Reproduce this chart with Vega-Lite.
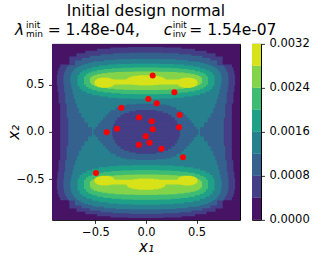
{
  "$schema": "https://vega.github.io/schema/vega-lite/v6.json",
  "autosize": {"type": "pad"},
  "padding": {"left": 5, "top": 2.88, "right": 5, "bottom": 1},
  "bounds": "flush",
  "spacing": 12,
  "config": {
    "font": "DejaVu Sans",
    "view": {"stroke": "#000000", "strokeWidth": 1},
    "axis": {
      "labelFont": "DejaVu Sans", "labelFontSize": 11.5, "labelColor": "#000000",
      "tickColor": "#000000", "tickSize": 3.5, "tickWidth": 0.8,
      "titleFont": "DejaVu Sans", "titleFontSize": 15, "titleFontWeight": "normal", "titleColor": "#000000",
      "domain": false, "grid": false
    },
    "text": {"font": "DejaVu Sans", "color": "#000000"}
  },
  "datasets": {
    "contours": [
      {"x":-0.93,"x2":0.93,"y":-0.93,"y2":0.93,"z":0.0002},
      {"x":-0.176,"x2":0.176,"y":-0.911,"y2":0.897,"z":0.0006},
      {"x":-0.353,"x2":0.353,"y":-0.904,"y2":0.891,"z":0.0006},
      {"x":-0.485,"x2":0.485,"y":-0.891,"y2":0.878,"z":0.0006},
      {"x":-0.6,"x2":0.6,"y":-0.87,"y2":0.857,"z":0.0006},
      {"x":-0.688,"x2":0.688,"y":-0.843,"y2":0.83,"z":0.0006},
      {"x":-0.759,"x2":0.759,"y":-0.809,"y2":0.797,"z":0.0006},
      {"x":-0.85,"x2":0.85,"y":-0.722,"y2":0.712,"z":0.0006},
      {"x":-0.865,"x2":0.865,"y":0.3,"y2":0.68,"z":0.0006},
      {"x":-0.865,"x2":0.865,"y":-0.69,"y2":-0.3,"z":0.0006},
      {"x":-0.875,"x2":0.875,"y":0.42,"y2":0.647,"z":0.0006},
      {"x":-0.875,"x2":0.875,"y":-0.656,"y2":-0.42,"z":0.0006},
      {"x":-0.882,"x2":0.882,"y":0.49,"y2":0.6,"z":0.0006},
      {"x":-0.882,"x2":0.882,"y":-0.61,"y2":-0.49,"z":0.0006},
      {"x":-0.163,"x2":0.163,"y":-0.867,"y2":0.837,"z":0.001},
      {"x":-0.327,"x2":0.327,"y":-0.861,"y2":0.832,"z":0.001},
      {"x":-0.449,"x2":0.449,"y":-0.85,"y2":0.821,"z":0.001},
      {"x":-0.556,"x2":0.556,"y":-0.831,"y2":0.804,"z":0.001},
      {"x":-0.637,"x2":0.637,"y":-0.807,"y2":0.781,"z":0.001},
      {"x":-0.703,"x2":0.703,"y":-0.778,"y2":0.754,"z":0.001},
      {"x":-0.77,"x2":0.77,"y":-0.725,"y2":0.705,"z":0.001},
      {"x":-0.785,"x2":0.785,"y":0.15,"y2":0.687,"z":0.001},
      {"x":-0.785,"x2":0.785,"y":-0.705,"y2":-0.15,"z":0.001},
      {"x":-0.8,"x2":0.8,"y":0.3,"y2":0.661,"z":0.001},
      {"x":-0.8,"x2":0.8,"y":-0.678,"y2":-0.3,"z":0.001},
      {"x":-0.81,"x2":0.81,"y":0.42,"y2":0.632,"z":0.001},
      {"x":-0.81,"x2":0.81,"y":-0.647,"y2":-0.42,"z":0.001},
      {"x":-0.817,"x2":0.817,"y":0.49,"y2":0.6,"z":0.001},
      {"x":-0.817,"x2":0.817,"y":-0.61,"y2":-0.49,"z":0.001},
      {"x":-0.15,"x2":0.15,"y":-0.821,"y2":0.771,"z":0.0014},
      {"x":-0.3,"x2":0.3,"y":-0.816,"y2":0.767,"z":0.0014},
      {"x":-0.413,"x2":0.413,"y":-0.806,"y2":0.759,"z":0.0014},
      {"x":-0.51,"x2":0.51,"y":-0.791,"y2":0.745,"z":0.0014},
      {"x":-0.535,"x2":0.535,"y":-0.784,"y2":0.74,"z":0.0014},
      {"x":-0.575,"x2":0.575,"y":0.05,"y2":0.731,"z":0.0014},
      {"x":-0.61,"x2":0.61,"y":0.1,"y2":0.72,"z":0.0014},
      {"x":-0.64,"x2":0.64,"y":0.15,"y2":0.709,"z":0.0014},
      {"x":-0.665,"x2":0.665,"y":0.2,"y2":0.697,"z":0.0014},
      {"x":-0.685,"x2":0.685,"y":0.25,"y2":0.686,"z":0.0014},
      {"x":-0.7,"x2":0.7,"y":0.3,"y2":0.675,"z":0.0014},
      {"x":-0.715,"x2":0.715,"y":0.35,"y2":0.661,"z":0.0014},
      {"x":-0.727,"x2":0.727,"y":0.4,"y2":0.646,"z":0.0014},
      {"x":-0.738,"x2":0.738,"y":0.45,"y2":0.627,"z":0.0014},
      {"x":-0.745,"x2":0.745,"y":0.5,"y2":0.606,"z":0.0014},
      {"x":-0.75,"x2":0.75,"y":0.52,"y2":0.575,"z":0.0014},
      {"x":-0.575,"x2":0.575,"y":-0.773,"y2":-0.05,"z":0.0014},
      {"x":-0.61,"x2":0.61,"y":-0.761,"y2":-0.1,"z":0.0014},
      {"x":-0.64,"x2":0.64,"y":-0.748,"y2":-0.15,"z":0.0014},
      {"x":-0.665,"x2":0.665,"y":-0.733,"y2":-0.2,"z":0.0014},
      {"x":-0.685,"x2":0.685,"y":-0.72,"y2":-0.25,"z":0.0014},
      {"x":-0.7,"x2":0.7,"y":-0.707,"y2":-0.3,"z":0.0014},
      {"x":-0.715,"x2":0.715,"y":-0.691,"y2":-0.35,"z":0.0014},
      {"x":-0.727,"x2":0.727,"y":-0.673,"y2":-0.4,"z":0.0014},
      {"x":-0.738,"x2":0.738,"y":-0.65,"y2":-0.45,"z":0.0014},
      {"x":-0.745,"x2":0.745,"y":-0.626,"y2":-0.5,"z":0.0014},
      {"x":-0.75,"x2":0.75,"y":-0.585,"y2":-0.52,"z":0.0014},
      {"x":-0.52,"x2":0.52,"y":-0.03,"y2":0.03,"z":0.001},
      {"x":-0.5,"x2":0.5,"y":-0.055,"y2":0.055,"z":0.001},
      {"x":-0.475,"x2":0.475,"y":-0.09,"y2":0.09,"z":0.001},
      {"x":-0.45,"x2":0.45,"y":-0.12,"y2":0.12,"z":0.001},
      {"x":-0.425,"x2":0.425,"y":-0.15,"y2":0.15,"z":0.001},
      {"x":-0.4,"x2":0.4,"y":-0.18,"y2":0.18,"z":0.001},
      {"x":-0.375,"x2":0.375,"y":-0.205,"y2":0.205,"z":0.001},
      {"x":-0.35,"x2":0.35,"y":-0.23,"y2":0.23,"z":0.001},
      {"x":-0.3,"x2":0.3,"y":-0.26,"y2":0.26,"z":0.001},
      {"x":-0.25,"x2":0.25,"y":-0.278,"y2":0.278,"z":0.001},
      {"x":-0.2,"x2":0.2,"y":-0.29,"y2":0.29,"z":0.001},
      {"x":-0.1,"x2":0.1,"y":-0.298,"y2":0.298,"z":0.001},
      {"x":-0.1,"x2":0.1,"y":-0.23,"y2":0.23,"z":0.0006},
      {"x":-0.168,"x2":0.168,"y":-0.217,"y2":0.217,"z":0.0006},
      {"x":-0.218,"x2":0.218,"y":-0.199,"y2":0.199,"z":0.0006},
      {"x":-0.251,"x2":0.251,"y":-0.18,"y2":0.18,"z":0.0006},
      {"x":-0.285,"x2":0.285,"y":-0.152,"y2":0.152,"z":0.0006},
      {"x":-0.308,"x2":0.308,"y":-0.12,"y2":0.12,"z":0.0006},
      {"x":-0.325,"x2":0.325,"y":-0.082,"y2":0.082,"z":0.0006},
      {"x":-0.334,"x2":0.334,"y":-0.045,"y2":0.045,"z":0.0006},
      {"x":-0.137,"x2":0.137,"y":0.351,"y2":0.721,"z":0.0018},
      {"x":-0.274,"x2":0.274,"y":0.354,"y2":0.718,"z":0.0018},
      {"x":-0.377,"x2":0.377,"y":0.361,"y2":0.712,"z":0.0018},
      {"x":-0.466,"x2":0.466,"y":0.373,"y2":0.701,"z":0.0018},
      {"x":-0.534,"x2":0.534,"y":0.388,"y2":0.688,"z":0.0018},
      {"x":-0.589,"x2":0.589,"y":0.406,"y2":0.671,"z":0.0018},
      {"x":-0.63,"x2":0.63,"y":0.427,"y2":0.652,"z":0.0018},
      {"x":-0.658,"x2":0.658,"y":0.45,"y2":0.631,"z":0.0018},
      {"x":-0.678,"x2":0.678,"y":0.485,"y2":0.6,"z":0.0018},
      {"x":-0.137,"x2":0.137,"y":-0.769,"y2":-0.352,"z":0.0018},
      {"x":-0.274,"x2":0.274,"y":-0.765,"y2":-0.355,"z":0.0018},
      {"x":-0.377,"x2":0.377,"y":-0.757,"y2":-0.363,"z":0.0018},
      {"x":-0.466,"x2":0.466,"y":-0.745,"y2":-0.375,"z":0.0018},
      {"x":-0.534,"x2":0.534,"y":-0.728,"y2":-0.39,"z":0.0018},
      {"x":-0.589,"x2":0.589,"y":-0.708,"y2":-0.409,"z":0.0018},
      {"x":-0.63,"x2":0.63,"y":-0.684,"y2":-0.431,"z":0.0018},
      {"x":-0.658,"x2":0.658,"y":-0.659,"y2":-0.455,"z":0.0018},
      {"x":-0.678,"x2":0.678,"y":-0.62,"y2":-0.49,"z":0.0018},
      {"x":-0.124,"x2":0.124,"y":0.398,"y2":0.68,"z":0.0022},
      {"x":-0.248,"x2":0.248,"y":0.401,"y2":0.677,"z":0.0022},
      {"x":-0.341,"x2":0.341,"y":0.407,"y2":0.672,"z":0.0022},
      {"x":-0.422,"x2":0.422,"y":0.415,"y2":0.664,"z":0.0022},
      {"x":-0.484,"x2":0.484,"y":0.426,"y2":0.654,"z":0.0022},
      {"x":-0.533,"x2":0.533,"y":0.44,"y2":0.641,"z":0.0022},
      {"x":-0.57,"x2":0.57,"y":0.456,"y2":0.627,"z":0.0022},
      {"x":-0.595,"x2":0.595,"y":0.473,"y2":0.611,"z":0.0022},
      {"x":-0.614,"x2":0.614,"y":0.499,"y2":0.587,"z":0.0022},
      {"x":-0.124,"x2":0.124,"y":-0.718,"y2":-0.404,"z":0.0022},
      {"x":-0.248,"x2":0.248,"y":-0.715,"y2":-0.407,"z":0.0022},
      {"x":-0.341,"x2":0.341,"y":-0.708,"y2":-0.413,"z":0.0022},
      {"x":-0.422,"x2":0.422,"y":-0.699,"y2":-0.421,"z":0.0022},
      {"x":-0.484,"x2":0.484,"y":-0.686,"y2":-0.433,"z":0.0022},
      {"x":-0.533,"x2":0.533,"y":-0.671,"y2":-0.447,"z":0.0022},
      {"x":-0.57,"x2":0.57,"y":-0.653,"y2":-0.463,"z":0.0022},
      {"x":-0.595,"x2":0.595,"y":-0.633,"y2":-0.48,"z":0.0022},
      {"x":-0.614,"x2":0.614,"y":-0.604,"y2":-0.507,"z":0.0022},
      {"x":-0.112,"x2":0.112,"y":0.443,"y2":0.638,"z":0.0026},
      {"x":-0.224,"x2":0.224,"y":0.445,"y2":0.636,"z":0.0026},
      {"x":-0.308,"x2":0.308,"y":0.449,"y2":0.633,"z":0.0026},
      {"x":-0.381,"x2":0.381,"y":0.455,"y2":0.627,"z":0.0026},
      {"x":-0.437,"x2":0.437,"y":0.463,"y2":0.62,"z":0.0026},
      {"x":-0.482,"x2":0.482,"y":0.472,"y2":0.611,"z":0.0026},
      {"x":-0.515,"x2":0.515,"y":0.483,"y2":0.601,"z":0.0026},
      {"x":-0.538,"x2":0.538,"y":0.495,"y2":0.59,"z":0.0026},
      {"x":-0.554,"x2":0.554,"y":0.513,"y2":0.574,"z":0.0026},
      {"x":-0.112,"x2":0.112,"y":-0.665,"y2":-0.452,"z":0.0026},
      {"x":-0.224,"x2":0.224,"y":-0.663,"y2":-0.454,"z":0.0026},
      {"x":-0.308,"x2":0.308,"y":-0.659,"y2":-0.458,"z":0.0026},
      {"x":-0.381,"x2":0.381,"y":-0.652,"y2":-0.464,"z":0.0026},
      {"x":-0.437,"x2":0.437,"y":-0.643,"y2":-0.471,"z":0.0026},
      {"x":-0.482,"x2":0.482,"y":-0.633,"y2":-0.481,"z":0.0026},
      {"x":-0.515,"x2":0.515,"y":-0.621,"y2":-0.492,"z":0.0026},
      {"x":-0.538,"x2":0.538,"y":-0.608,"y2":-0.504,"z":0.0026},
      {"x":-0.554,"x2":0.554,"y":-0.588,"y2":-0.522,"z":0.0026},
      {"x":-0.078,"x2":0.078,"y":0.492,"y2":0.598,"z":0.003},
      {"x":-0.127,"x2":0.127,"y":0.498,"y2":0.592,"z":0.003},
      {"x":-0.156,"x2":0.156,"y":0.506,"y2":0.584,"z":0.003},
      {"x":-0.176,"x2":0.176,"y":0.514,"y2":0.576,"z":0.003},
      {"x":-0.187,"x2":0.187,"y":0.523,"y2":0.567,"z":0.003},
      {"x":-0.193,"x2":0.193,"y":0.532,"y2":0.558,"z":0.003},
      {"x":-0.36,"x2":0.36,"y":0.502,"y2":0.553,"z":0.003},
      {"x":0.37,"x2":0.45,"y":0.467,"y2":0.573,"z":0.003},
      {"x":0.345,"x2":0.475,"y":0.473,"y2":0.567,"z":0.003},
      {"x":0.33,"x2":0.49,"y":0.481,"y2":0.559,"z":0.003},
      {"x":0.32,"x2":0.5,"y":0.489,"y2":0.551,"z":0.003},
      {"x":0.314,"x2":0.506,"y":0.498,"y2":0.542,"z":0.003},
      {"x":0.311,"x2":0.509,"y":0.507,"y2":0.533,"z":0.003},
      {"x":-0.45,"x2":-0.37,"y":0.467,"y2":0.573,"z":0.003},
      {"x":-0.475,"x2":-0.345,"y":0.473,"y2":0.567,"z":0.003},
      {"x":-0.49,"x2":-0.33,"y":0.481,"y2":0.559,"z":0.003},
      {"x":-0.5,"x2":-0.32,"y":0.489,"y2":0.551,"z":0.003},
      {"x":-0.506,"x2":-0.314,"y":0.498,"y2":0.542,"z":0.003},
      {"x":-0.509,"x2":-0.311,"y":0.507,"y2":0.533,"z":0.003},
      {"x":-0.078,"x2":0.078,"y":-0.612,"y2":-0.494,"z":0.003},
      {"x":-0.127,"x2":0.127,"y":-0.605,"y2":-0.501,"z":0.003},
      {"x":-0.156,"x2":0.156,"y":-0.597,"y2":-0.509,"z":0.003},
      {"x":-0.176,"x2":0.176,"y":-0.587,"y2":-0.519,"z":0.003},
      {"x":-0.187,"x2":0.187,"y":-0.577,"y2":-0.529,"z":0.003},
      {"x":-0.193,"x2":0.193,"y":-0.567,"y2":-0.539,"z":0.003},
      {"x":-0.36,"x2":0.36,"y":-0.556,"y2":-0.505,"z":0.003},
      {"x":0.37,"x2":0.45,"y":-0.566,"y2":-0.464,"z":0.003},
      {"x":0.345,"x2":0.475,"y":-0.56,"y2":-0.47,"z":0.003},
      {"x":0.33,"x2":0.49,"y":-0.553,"y2":-0.477,"z":0.003},
      {"x":0.32,"x2":0.5,"y":-0.545,"y2":-0.485,"z":0.003},
      {"x":0.314,"x2":0.506,"y":-0.536,"y2":-0.494,"z":0.003},
      {"x":0.311,"x2":0.509,"y":-0.527,"y2":-0.503,"z":0.003},
      {"x":-0.45,"x2":-0.37,"y":-0.566,"y2":-0.464,"z":0.003},
      {"x":-0.475,"x2":-0.345,"y":-0.56,"y2":-0.47,"z":0.003},
      {"x":-0.49,"x2":-0.33,"y":-0.553,"y2":-0.477,"z":0.003},
      {"x":-0.5,"x2":-0.32,"y":-0.545,"y2":-0.485,"z":0.003},
      {"x":-0.506,"x2":-0.314,"y":-0.536,"y2":-0.494,"z":0.003},
      {"x":-0.509,"x2":-0.311,"y":-0.527,"y2":-0.503,"z":0.003}
    ],
    "points": [
      {"px":0.066,"py":0.596},{"px":0.281,"py":0.418},{"px":0.023,"py":0.347},
      {"px":0.106,"py":0.302},{"px":-0.244,"py":0.256},{"px":0.333,"py":0.179},
      {"px":-0.069,"py":0.151},{"px":0.056,"py":0.112},{"px":0.327,"py":0.049},
      {"px":0.066,"py":0.028},{"px":-0.287,"py":0.032},{"px":-0.389,"py":-0.004},
      {"px":-0.003,"py":-0.046},{"px":0.035,"py":-0.116},{"px":-0.071,"py":-0.137},
      {"px":0.152,"py":-0.179},{"px":0.366,"py":-0.267},{"px":-0.495,"py":-0.435}
    ],
    "bar": [
      {"lo":0,"hi":0.0004,"z":0.0002},{"lo":0.0004,"hi":0.0008,"z":0.0006},
      {"lo":0.0008,"hi":0.0012,"z":0.001},{"lo":0.0012,"hi":0.0016,"z":0.0014},
      {"lo":0.0016,"hi":0.002,"z":0.0018},{"lo":0.002,"hi":0.0024,"z":0.0022},
      {"lo":0.0024,"hi":0.0028,"z":0.0026},{"lo":0.0028,"hi":0.0032,"z":0.003}
    ],
    "one": [{}]
  },
  "hconcat": [
    {
      "width": 188,
      "height": 176,
      "layer": [
        {
          "data": {"name": "contours"},
          "mark": {"type": "rect", "strokeWidth": 0},
          "encoding": {
            "x": {"field": "x", "type": "quantitative", "title": "x₁",
                  "scale": {"domain": [-0.93, 0.93], "nice": false, "zero": false},
                  "axis": {"values": [-0.5, 0, 0.5], "format": ".1f", "labelPadding": 3.5,
                           "titleY": 31.7, "titleBaseline": "alphabetic", "titleFontStyle": "italic"}},
            "x2": {"field": "x2"},
            "y": {"field": "y", "type": "quantitative", "title": "x₂",
                  "scale": {"domain": [-0.93, 0.93], "nice": false, "zero": false},
                  "axis": {"values": [-0.5, 0, 0.5], "format": ".1f", "labelPadding": 4.5,
                           "titleX": -34, "titleY": 88, "titleAngle": -90, "titleAlign": "center",
                           "titleBaseline": "alphabetic", "titleFontStyle": "italic"}},
            "y2": {"field": "y2"},
            "color": {"field": "z", "type": "quantitative", "legend": null,
                      "scale": {"type": "threshold",
                                "domain": [0.0004, 0.0008, 0.0012, 0.0016, 0.002, 0.0024, 0.0028],
                                "range": ["#471365", "#433e85", "#34618d", "#27808e", "#1fa188", "#3fbc73", "#84d44b", "#d8e219"]}}
          }
        },
        {
          "data": {"name": "points"},
          "mark": {"type": "circle", "size": 36, "color": "#ff0000", "opacity": 1},
          "encoding": {
            "x": {"field": "px", "type": "quantitative", "title": "x₁"},
            "y": {"field": "py", "type": "quantitative", "title": "x₂"}
          }
        },
        {
          "data": {"name": "one"},
          "mark": {"type": "text", "align": "center", "baseline": "alphabetic", "fontSize": 15.5},
          "encoding": {"x": {"datum": 0}, "y": {"datum": 1.225}, "text": {"value": "Initial design normal"}}
        },
        {
          "data": {"name": "one"},
          "mark": {"type": "text", "align": "left", "baseline": "alphabetic", "fontSize": 15.5, "fontStyle": "italic"},
          "encoding": {"x": {"datum": -1.296}, "y": {"datum": 1.022}, "text": {"value": "λ"}}
        },
        {
          "data": {"name": "one"},
          "mark": {"type": "text", "align": "left", "baseline": "alphabetic", "fontSize": 9},
          "encoding": {"x": {"datum": -1.187}, "y": {"datum": 1.097}, "text": {"value": "init"}}
        },
        {
          "data": {"name": "one"},
          "mark": {"type": "text", "align": "left", "baseline": "alphabetic", "fontSize": 9},
          "encoding": {"x": {"datum": -1.187}, "y": {"datum": 0.998}, "text": {"value": "min"}}
        },
        {
          "data": {"name": "one"},
          "mark": {"type": "text", "align": "left", "baseline": "alphabetic", "fontSize": 15.5},
          "encoding": {"x": {"datum": -0.9725}, "y": {"datum": 1.022}, "text": {"value": "= 1.48e-04,"}}
        },
        {
          "data": {"name": "one"},
          "mark": {"type": "text", "align": "left", "baseline": "alphabetic", "fontSize": 15.5, "fontStyle": "italic"},
          "encoding": {"x": {"datum": 0.175}, "y": {"datum": 1.022}, "text": {"value": "c"}}
        },
        {
          "data": {"name": "one"},
          "mark": {"type": "text", "align": "left", "baseline": "alphabetic", "fontSize": 9},
          "encoding": {"x": {"datum": 0.264}, "y": {"datum": 1.097}, "text": {"value": "init"}}
        },
        {
          "data": {"name": "one"},
          "mark": {"type": "text", "align": "left", "baseline": "alphabetic", "fontSize": 9},
          "encoding": {"x": {"datum": 0.264}, "y": {"datum": 0.998}, "text": {"value": "inv"}}
        },
        {
          "data": {"name": "one"},
          "mark": {"type": "text", "align": "left", "baseline": "alphabetic", "fontSize": 15.5},
          "encoding": {"x": {"datum": 0.428}, "y": {"datum": 1.022}, "text": {"value": "= 1.54e-07"}}
        }
      ]
    },
    {
      "width": 9,
      "height": 176,
      "data": {"name": "bar"},
      "mark": {"type": "rect", "strokeWidth": 0},
      "encoding": {
        "y": {"field": "lo", "type": "quantitative",
              "scale": {"domain": [0, 0.0032], "nice": false, "zero": false},
              "axis": {"orient": "right", "values": [0, 0.0008, 0.0016, 0.0024, 0.0032], "format": ".4f",
                       "title": null, "labelPadding": 4.5}},
        "y2": {"field": "hi"},
        "color": {"field": "z", "type": "quantitative", "legend": null,
                  "scale": {"type": "threshold",
                            "domain": [0.0004, 0.0008, 0.0012, 0.0016, 0.002, 0.0024, 0.0028],
                            "range": ["#471365", "#433e85", "#34618d", "#27808e", "#1fa188", "#3fbc73", "#84d44b", "#d8e219"]}}
      }
    }
  ]
}
